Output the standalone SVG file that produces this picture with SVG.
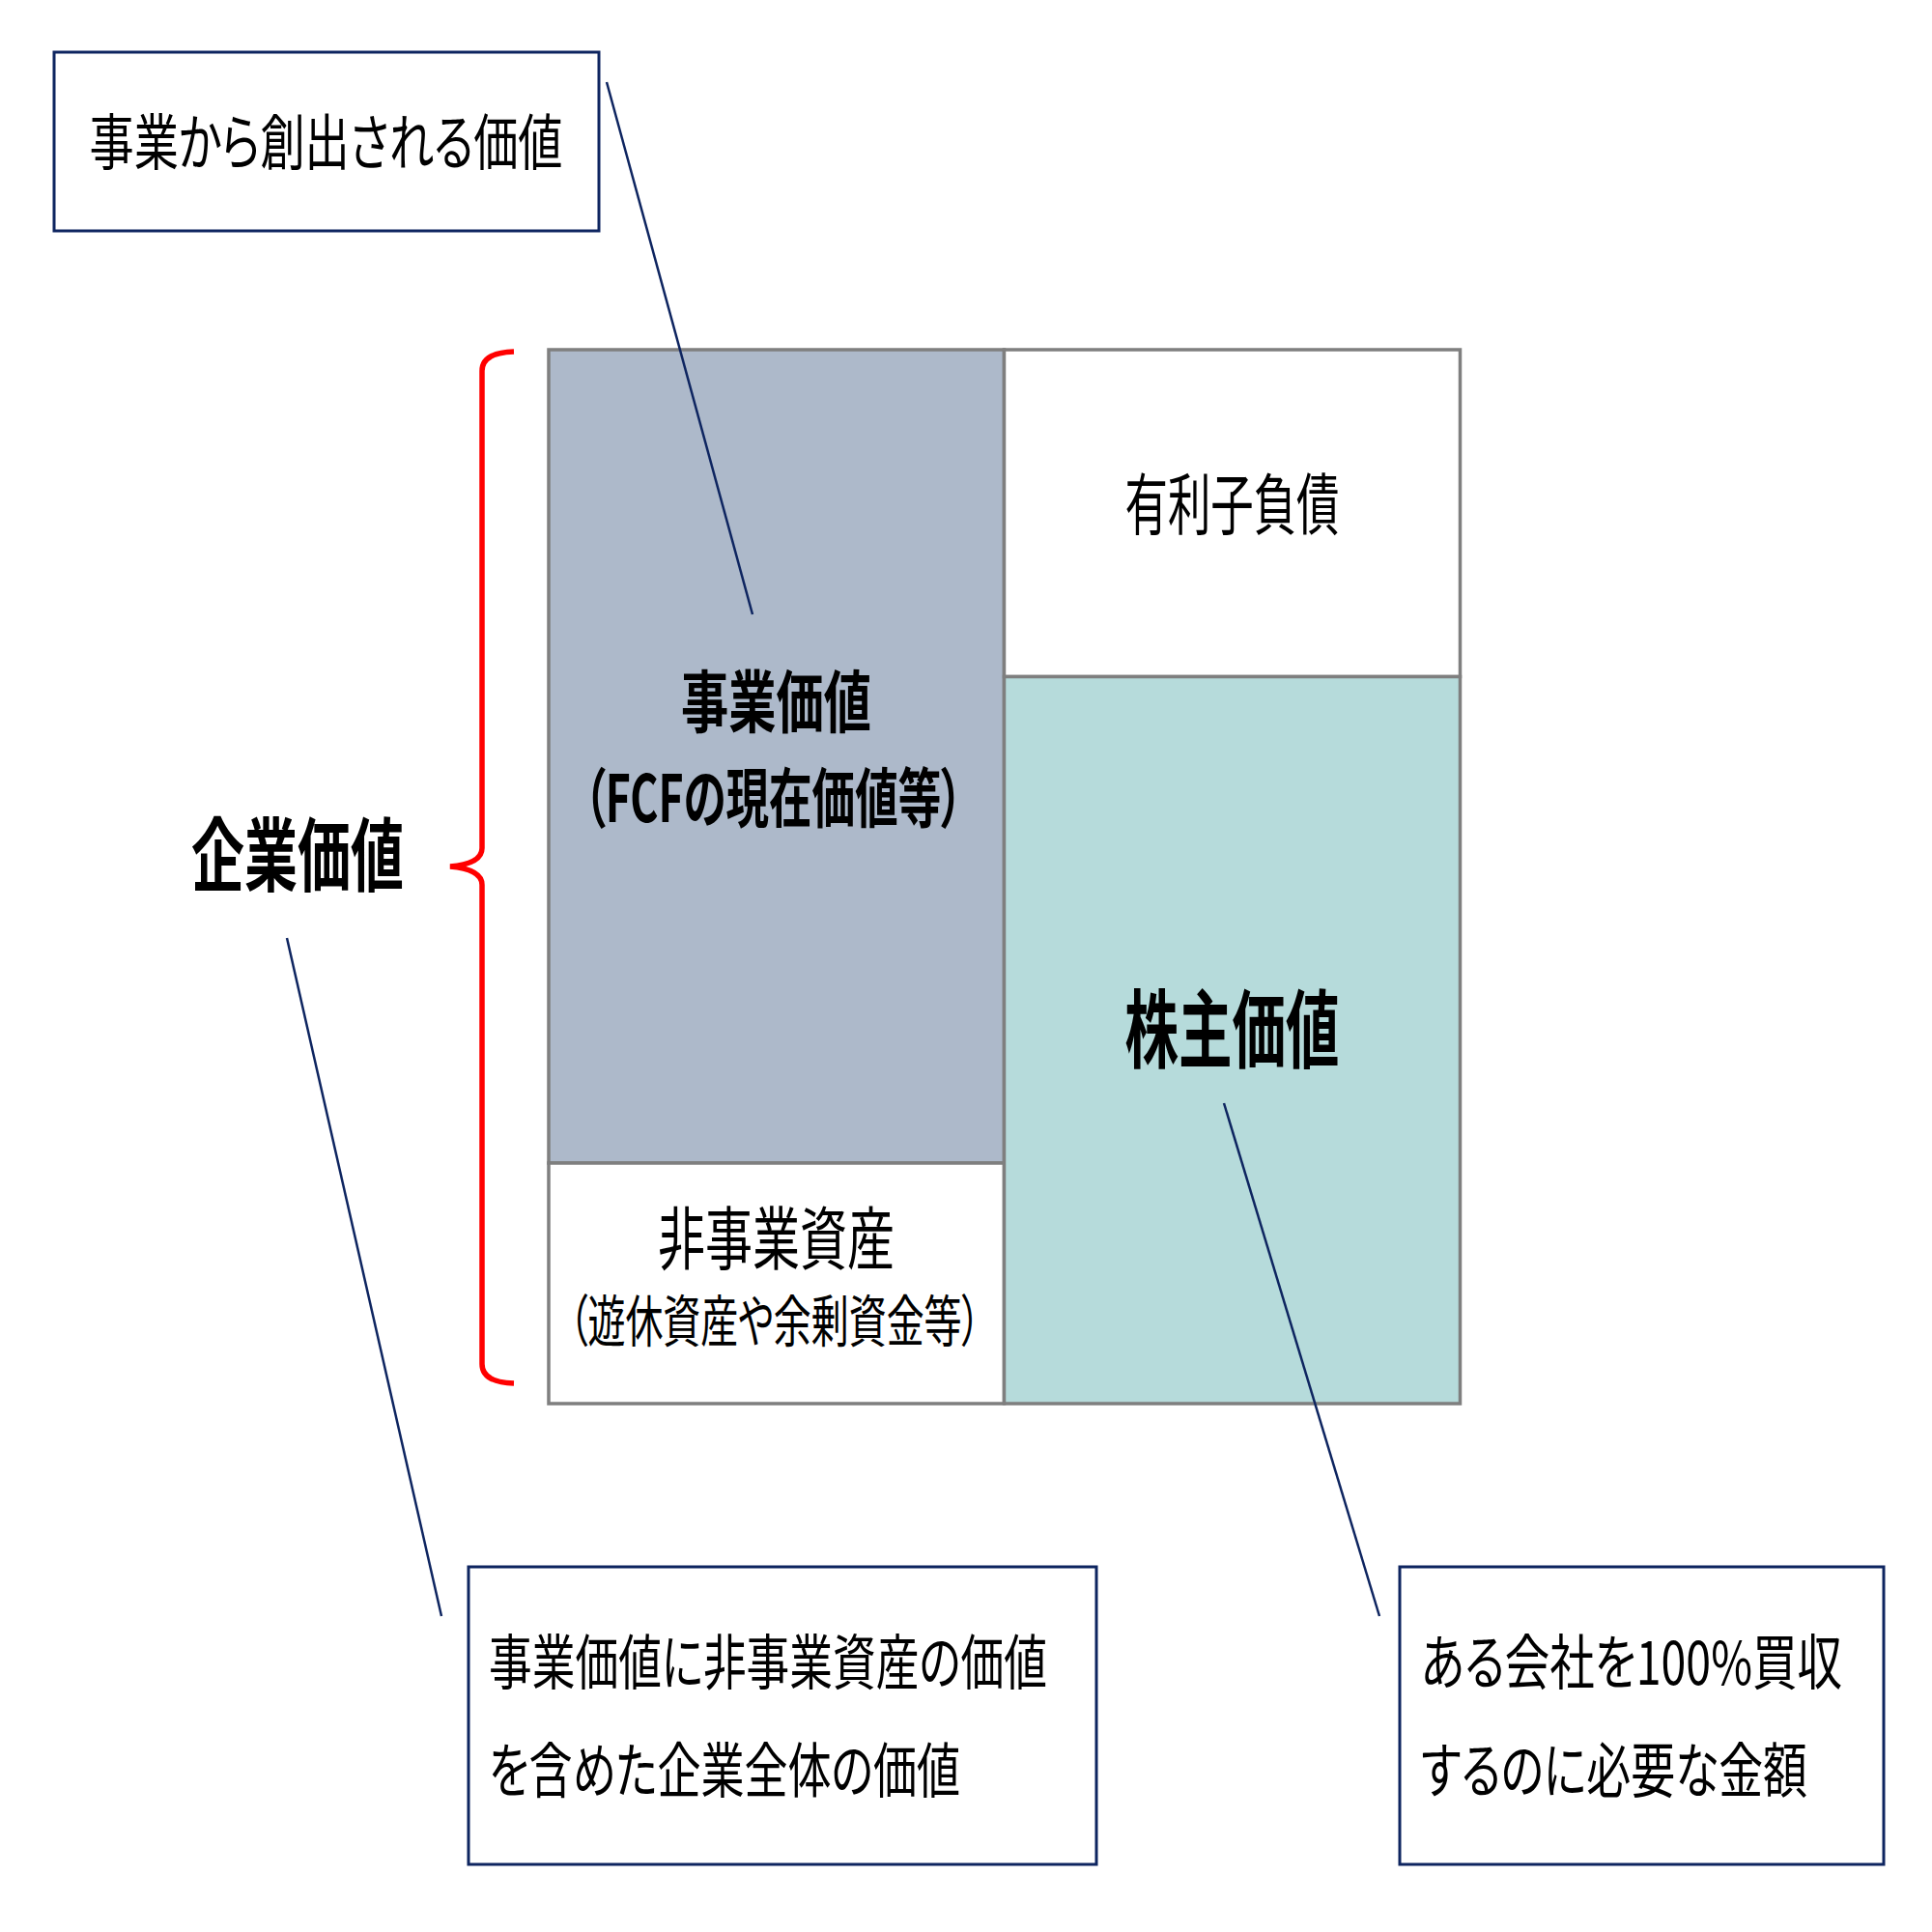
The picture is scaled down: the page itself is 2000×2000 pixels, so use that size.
<svg xmlns="http://www.w3.org/2000/svg" width="2000" height="2000" viewBox="0 0 2000 2000">
<style>
text{font-family:"Noto Sans CJK JP","Noto Sans CJK SC",sans-serif;fill:#000;font-feature-settings:"palt";}
.b{font-weight:700;}
.c{text-anchor:middle;}
.cell{stroke:#7f7f7f;stroke-width:3.5;}
.note{fill:#fff;stroke:#0e2560;stroke-width:3;}
.ln{stroke:#0e2560;stroke-width:2.5;fill:none;}
</style>
<rect width="2000" height="2000" fill="#fff"/>

<g id="cell-business">
<rect class="cell" x="568" y="362" width="471.5" height="842" fill="#adb9ca"/>
<text class="b c" x="803.5" y="753" font-size="70" textLength="197" lengthAdjust="spacingAndGlyphs">事業価値</text>
<text class="b c" x="800.5" y="851" font-size="67" textLength="392" lengthAdjust="spacingAndGlyphs">（FCFの現在価値等）</text>
</g>
<g id="cell-nonbusiness">
<rect class="cell" x="568" y="1204" width="471.5" height="249" fill="#fff"/>
<text class="c" x="803.5" y="1308" font-size="71" textLength="245" lengthAdjust="spacingAndGlyphs">非事業資産</text>
<text class="c" x="802" y="1389" font-size="58" textLength="426" lengthAdjust="spacingAndGlyphs">（遊休資産や余剰資金等）</text>
</g>
<g id="cell-debt">
<rect class="cell" x="1039.5" y="362" width="472" height="338.5" fill="#fff"/>
<text class="c" x="1275.5" y="548" font-size="69" textLength="222" lengthAdjust="spacingAndGlyphs">有利子負債</text>
</g>
<g id="cell-equity">
<rect class="cell" x="1039.5" y="700.5" width="472" height="752.5" fill="#b6dbdb"/>
<text class="b c" x="1275.5" y="1098" font-size="88" textLength="222" lengthAdjust="spacingAndGlyphs">株主価値</text>
</g>

<g id="brace-ev">
<path d="M532,364 Q499,365 499,384 L499,878 Q499,894 466,897 Q499,900 499,916 L499,1412 Q499,1431 532,1432" fill="none" stroke="#ff0000" stroke-width="5.5"/>
<text class="b c" x="308" y="916" font-size="83" textLength="220" lengthAdjust="spacingAndGlyphs">企業価値</text>
</g>

<g id="note-business">
<rect class="note" x="56" y="54" width="564" height="185"/>
<text class="c" x="337.5" y="170" font-size="63" textLength="490" lengthAdjust="spacingAndGlyphs">事業から創出される価値</text>
</g>
<g id="note-ev">
<rect class="note" x="485" y="1622" width="650" height="308"/>
<text x="506" y="1744" font-size="62" textLength="578" lengthAdjust="spacingAndGlyphs">事業価値に非事業資産の価値</text>
<text x="506" y="1856" font-size="62" textLength="488" lengthAdjust="spacingAndGlyphs">を含めた企業全体の価値</text>
</g>
<g id="note-equity">
<rect class="note" x="1449" y="1622" width="501" height="308"/>
<g transform="translate(1471 0) scale(0.8 1)">
<text x="0" y="1744" font-size="62" textLength="545" lengthAdjust="spacingAndGlyphs">ある会社を100%買収</text>
<text x="0" y="1856" font-size="62" textLength="500" lengthAdjust="spacingAndGlyphs">するのに必要な金額</text>
</g>
</g>

<g id="connectors">
<line class="ln" x1="628" y1="85" x2="779" y2="636"/>
<line class="ln" x1="297" y1="971" x2="457" y2="1673"/>
<line class="ln" x1="1267" y1="1142" x2="1428" y2="1673"/>
</g>
</svg>
